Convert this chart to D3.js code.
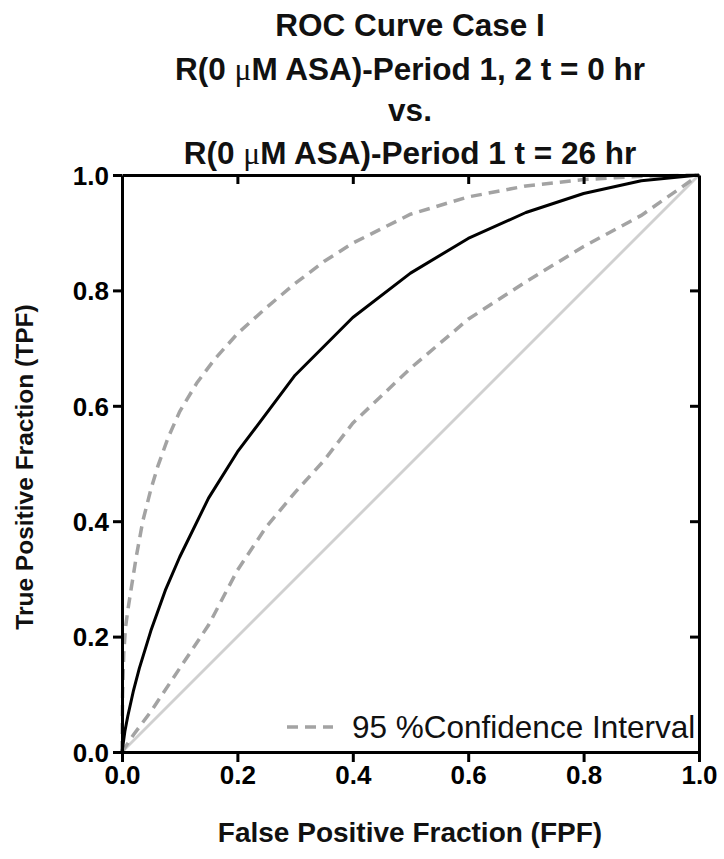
<!DOCTYPE html>
<html>
<head>
<meta charset="utf-8">
<script src="https://cdn.jsdelivr.net/npm/d3@7"></script>
<style>
  html, body { margin: 0; padding: 0; background: #fff; }
  svg { display: block; }
  text { font-family: "Liberation Sans", Arial, sans-serif; }
</style>
</head>
<body>
<svg id="chart" width="724" height="859"></svg>
<script>
// ROC curve (false positive fraction vs true positive fraction)
const rocFPF = [0, 0.005, 0.01, 0.02, 0.03, 0.05, 0.075, 0.1, 0.15, 0.2, 0.3, 0.4, 0.5, 0.6, 0.7, 0.8, 0.9, 1.0];
const rocTPF = [0, 0.036, 0.062, 0.107, 0.145, 0.21, 0.28, 0.338, 0.44, 0.52, 0.653, 0.753, 0.83, 0.89, 0.935, 0.968, 0.99, 1.0];

// Upper 95% confidence bound
const upperFPF = [0, 0.001, 0.003, 0.006, 0.01, 0.017, 0.025, 0.036, 0.05, 0.062, 0.08, 0.1, 0.13, 0.16, 0.2, 0.25, 0.3, 0.35, 0.4, 0.5, 0.6, 0.7, 0.8, 0.9, 1.0];
const upperTPF = [0, 0.1, 0.17, 0.215, 0.245, 0.29, 0.34, 0.4, 0.455, 0.495, 0.545, 0.59, 0.64, 0.68, 0.725, 0.77, 0.812, 0.85, 0.882, 0.932, 0.962, 0.981, 0.992, 0.998, 1.0];

// Lower 95% confidence bound
const lowerFPF = [0, 0.02, 0.05, 0.1, 0.15, 0.2, 0.25, 0.3, 0.35, 0.4, 0.5, 0.6, 0.7, 0.8, 0.9, 1.0];
const lowerTPF = [0, 0.03, 0.07, 0.145, 0.22, 0.315, 0.39, 0.45, 0.505, 0.57, 0.665, 0.75, 0.815, 0.876, 0.93, 1.0];

// Chance line
const chanceFPF = [0, 1];
const chanceTPF = [0, 1];

const tickValues = [0, 0.2, 0.4, 0.6, 0.8, 1.0];
const innerTicks = [0.2, 0.4, 0.6, 0.8];

// Title lines; each entry is a list of [text, isGreek] runs
const titleLines = [
  [["ROC Curve Case I", false]],
  [["R(0 ", false], ["\u03bc", true], ["M ASA)-Period 1, 2 t = 0 hr", false]],
  [["vs.", false]],
  [["R(0 ", false], ["\u03bc", true], ["M ASA)-Period 1 t = 26 hr", false]]
];
const xTitle = "False Positive Fraction (FPF)";
const yTitle = "True Positive Fraction (TPF)";
const legendLabel = "95 %Confidence Interval";

const svg = d3.select("#chart");
const plotLeft = 122, plotRight = 699, plotTop = 175, plotBottom = 752;

const x = d3.scaleLinear().domain([0, 1]).range([plotLeft, plotRight]);
const y = d3.scaleLinear().domain([0, 1]).range([plotBottom, plotTop]);

const zip = (xs, ys) => xs.map((v, i) => [v, ys[i]]);
const line = d3.line().x(d => x(d[0])).y(d => y(d[1]));

// Title
const titleY = [36, 80, 121, 164];
svg.append("g").selectAll("text").data(titleLines).join("text")
  .attr("x", 410).attr("y", (d, i) => titleY[i])
  .attr("text-anchor", "middle")
  .attr("font-size", 31.5).attr("font-weight", "bold")
  .attr("fill", "#111")
  .selectAll("tspan").data(d => d).join("tspan")
  .attr("font-family", r => r[1] ? "'Liberation Serif', serif" : null)
  .attr("font-weight", r => r[1] ? "normal" : null)
  .text(r => r[0]);

// Curves
const plot = svg.append("g");
plot.append("path").attr("d", line(zip(chanceFPF, chanceTPF)))
  .attr("fill", "none").attr("stroke", "#d0d0d0").attr("stroke-width", 2.8);
plot.append("path").attr("d", line(zip(lowerFPF, lowerTPF)))
  .attr("fill", "none").attr("stroke", "#a3a3a3").attr("stroke-width", 3.5)
  .attr("stroke-dasharray", "11,7");
plot.append("path").attr("d", line(zip(upperFPF, upperTPF)))
  .attr("fill", "none").attr("stroke", "#a3a3a3").attr("stroke-width", 3.5)
  .attr("stroke-dasharray", "11,7");
plot.append("path").attr("d", line(zip(rocFPF, rocTPF)))
  .attr("fill", "none").attr("stroke", "#000").attr("stroke-width", 3)
  .attr("stroke-linejoin", "round");

// Axes
const fmt = d3.format(".1f");
function styleAxis(g) {
  g.select(".domain").attr("stroke", "#000").attr("stroke-width", 3);
  g.selectAll(".tick line").attr("stroke", "#000").attr("stroke-width", 3);
  g.selectAll(".tick text").attr("fill", "#000")
    .attr("font-size", 26).attr("font-weight", "bold")
    .attr("font-family", "'Liberation Sans', Arial, sans-serif");
}

svg.append("g").attr("transform", `translate(0,${plotBottom})`)
  .call(d3.axisBottom(x).tickValues(tickValues).tickFormat(fmt).tickSize(10).tickSizeOuter(0).tickPadding(4))
  .call(styleAxis);
svg.append("g").attr("transform", `translate(${plotLeft},0)`)
  .call(d3.axisLeft(y).tickValues(tickValues).tickFormat(fmt).tickSize(9).tickSizeOuter(0).tickPadding(4))
  .call(styleAxis)
  .selectAll(".tick text").attr("dy", "0.36em");
svg.append("g").attr("transform", `translate(0,${plotTop})`)
  .call(d3.axisTop(x).tickValues(innerTicks).tickFormat("").tickSize(-9).tickSizeOuter(0))
  .call(styleAxis);
svg.append("g").attr("transform", `translate(${plotRight},0)`)
  .call(d3.axisRight(y).tickValues(innerTicks).tickFormat("").tickSize(-9).tickSizeOuter(0))
  .call(styleAxis);

// Axis titles
svg.append("text").attr("x", 410).attr("y", 842)
  .attr("text-anchor", "middle").attr("font-size", 28).attr("font-weight", "bold")
  .attr("fill", "#111").text(xTitle);
svg.append("text").attr("transform", "translate(33,467) rotate(-90)")
  .attr("text-anchor", "middle").attr("font-size", 24.5).attr("font-weight", "bold")
  .attr("fill", "#111").text(yTitle);

// Legend
const legend = svg.append("g");
legend.append("line").attr("x1", 287).attr("x2", 333).attr("y1", 727).attr("y2", 727)
  .attr("stroke", "#a3a3a3").attr("stroke-width", 3.5).attr("stroke-dasharray", "11,7");
legend.append("text").attr("x", 352).attr("y", 738)
  .attr("font-size", 31.5).attr("fill", "#111").text(legendLabel);
</script>
</body>
</html>
